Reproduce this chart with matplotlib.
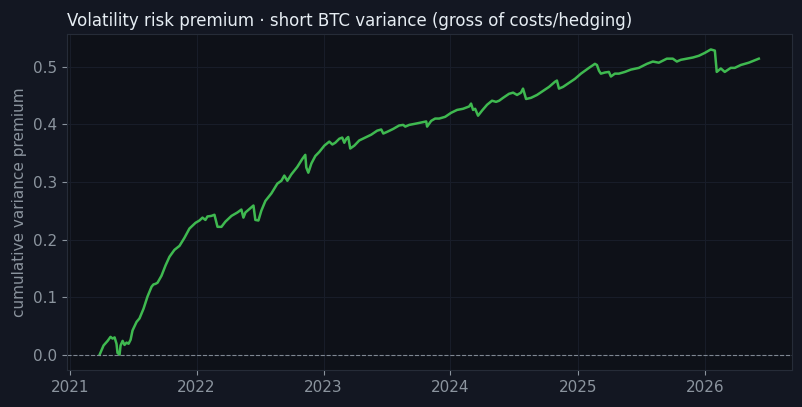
import numpy as np
import pandas as pd
import matplotlib
matplotlib.use('Agg')
import matplotlib.pyplot as plt
import matplotlib.dates as mdates

# colours
fig_bg = '#131722'
ax_bg = '#0e1118'
line_col = '#3fb950'
text_col = '#e6edf3'
muted = '#8b949e'
spine_col = '#262c38'
grid_col = '#181d29'

# traced series: years after 2021-01-01 and cumulative variance premium
years_since_2021 = [
    0.236, 0.267, 0.299, 0.322, 0.338, 0.354, 0.369, 0.377, 0.393, 0.401,
    0.417, 0.432, 0.448, 0.464, 0.480, 0.495, 0.527, 0.550, 0.582, 0.613,
    0.645, 0.660, 0.676, 0.692, 0.723, 0.755, 0.786, 0.825, 0.865, 0.904,
    0.943, 0.991, 1.022, 1.046, 1.069, 1.085, 1.116, 1.140, 1.164, 1.195,
    1.226, 1.274, 1.321, 1.352, 1.368, 1.384, 1.415, 1.447, 1.462, 1.486,
    1.509, 1.541, 1.588, 1.635, 1.667, 1.690, 1.714, 1.745, 1.792, 1.832,
    1.855, 1.863, 1.879, 1.903, 1.934, 1.965, 2.005, 2.044, 2.068, 2.091,
    2.123, 2.146, 2.162, 2.178, 2.193, 2.209, 2.241, 2.280, 2.327, 2.374,
    2.421, 2.453, 2.469, 2.500, 2.547, 2.594, 2.626, 2.642, 2.673, 2.720,
    2.807, 2.814, 2.846, 2.877, 2.909, 2.956, 3.003, 3.050, 3.097, 3.145,
    3.160, 3.176, 3.192, 3.215, 3.247, 3.286, 3.325, 3.357, 3.381, 3.412,
    3.459, 3.491, 3.522, 3.553, 3.569, 3.593, 3.632, 3.679, 3.726, 3.774,
    3.821, 3.836, 3.852, 3.884, 3.931, 3.978, 4.025, 4.088, 4.135, 4.151,
    4.167, 4.182, 4.214, 4.245, 4.261, 4.292, 4.324, 4.371, 4.418, 4.481,
    4.544, 4.591, 4.638, 4.701, 4.748, 4.780, 4.811, 4.858, 4.906, 4.953,
    5.000, 5.047, 5.079, 5.094, 5.126, 5.157, 5.204, 5.236, 5.283, 5.346,
    5.425,
]
cum_premium = [
    0.000, 0.016, 0.024, 0.031, 0.028, 0.030, 0.019, 0.003, 0.000, 0.016,
    0.024, 0.017, 0.021, 0.019, 0.026, 0.042, 0.057, 0.063, 0.080, 0.101,
    0.118, 0.122, 0.123, 0.125, 0.137, 0.155, 0.170, 0.182, 0.189, 0.203,
    0.219, 0.229, 0.233, 0.238, 0.234, 0.240, 0.241, 0.243, 0.222, 0.222,
    0.231, 0.241, 0.247, 0.252, 0.238, 0.247, 0.253, 0.259, 0.234, 0.233,
    0.250, 0.267, 0.280, 0.297, 0.302, 0.311, 0.302, 0.313, 0.326, 0.340,
    0.347, 0.325, 0.316, 0.332, 0.345, 0.352, 0.363, 0.370, 0.365, 0.368,
    0.375, 0.377, 0.368, 0.375, 0.378, 0.358, 0.363, 0.372, 0.377, 0.382,
    0.389, 0.391, 0.384, 0.387, 0.392, 0.398, 0.399, 0.396, 0.399, 0.401,
    0.405, 0.396, 0.406, 0.410, 0.410, 0.413, 0.420, 0.425, 0.427, 0.431,
    0.436, 0.425, 0.427, 0.415, 0.424, 0.434, 0.441, 0.439, 0.441, 0.446,
    0.453, 0.455, 0.451, 0.455, 0.462, 0.444, 0.446, 0.451, 0.458, 0.465,
    0.474, 0.476, 0.462, 0.465, 0.472, 0.479, 0.488, 0.498, 0.505, 0.503,
    0.493, 0.488, 0.490, 0.491, 0.483, 0.488, 0.488, 0.491, 0.495, 0.498,
    0.505, 0.509, 0.507, 0.514, 0.514, 0.509, 0.512, 0.514, 0.516, 0.519,
    0.524, 0.530, 0.528, 0.491, 0.497, 0.491, 0.498, 0.498, 0.503, 0.507,
    0.514,
]

dates = pd.Timestamp('2021-01-01') + pd.to_timedelta(np.array(years_since_2021) * 365.25, unit='D')

fig = plt.figure(figsize=(8.03, 4.07), dpi=100, facecolor=fig_bg)
ax = fig.add_axes([0.083, 0.091, 0.903, 0.825], facecolor=ax_bg)

ax.plot(dates, cum_premium, color=line_col, linewidth=1.8)
ax.axhline(0, color=muted, linestyle='--', linewidth=0.8, alpha=0.9)

ax.xaxis.set_major_locator(mdates.YearLocator())
ax.xaxis.set_major_formatter(mdates.DateFormatter('%Y'))

ax.grid(True, color=grid_col, linewidth=0.8)
ax.set_axisbelow(True)
for s in ax.spines.values():
    s.set_color(spine_col)
ax.tick_params(colors=muted, labelsize=11)

ax.set_ylabel('cumulative variance premium', color=muted, fontsize=11)
ax.set_title('Volatility risk premium \u00b7 short BTC variance (gross of costs/hedging)',
             loc='left', color=text_col, fontsize=12, pad=6)

fig.savefig('out.png', dpi=100, facecolor=fig_bg)
